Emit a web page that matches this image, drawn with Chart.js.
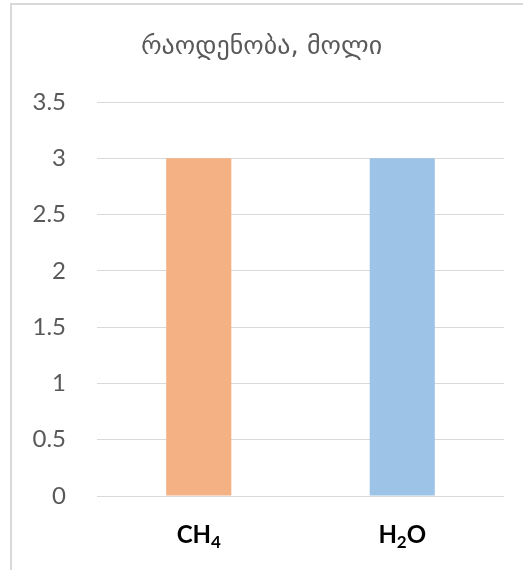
<!DOCTYPE html>
<html>
<head>
<meta charset="utf-8">
<script src="https://cdn.jsdelivr.net/npm/chart.js@4"></script>
<style>
html,body{margin:0;padding:0;background:#fff;}
#wrap{position:relative;width:523px;height:570px;overflow:hidden;}
#frame{position:absolute;left:10px;top:3px;width:520px;height:580px;border-left:2px solid #d9d9d9;border-top:2px solid #d9d9d9;box-sizing:border-box;}
canvas{position:absolute;left:0;top:0;}
</style>
</head>
<body>
<div id="wrap">
<div id="frame"></div>
<canvas id="c" width="523" height="570"></canvas>
</div>
<script>
const categories = ["CH4", "H2O"];
const values = [3, 3];
const barColors = ["#F4B183", "#9DC3E6"];
const titleText = "რაოდენობა, მოლი";
const yTicks = [0, 0.5, 1, 1.5, 2, 2.5, 3, 3.5];

// draws the title centred on the canvas and the category labels with subscript digits
const textPlugin = {
  id: 'textPlugin',
  afterDraw(chart) {
    const ctx = chart.ctx;
    ctx.save();
    ctx.fillStyle = '#595959';
    ctx.font = "normal 26px 'DejaVu Sans', sans-serif";
    ctx.textAlign = 'center';
    ctx.textBaseline = 'middle';
    ctx.fillText(titleText, chart.width / 2, 47);

    const xs = chart.scales.x;
    const big = "bold 24px Lato, 'DejaVu Sans', sans-serif";
    const small = "bold 17px Lato, 'DejaVu Sans', sans-serif";
    ctx.fillStyle = '#000';
    ctx.textAlign = 'left';
    ctx.textBaseline = 'alphabetic';
    const baseY = 543;
    categories.forEach((label, i) => {
      const parts = label.split(/(\d+)/).filter(p => p.length);
      let w = 0;
      parts.forEach(p => { ctx.font = /^\d+$/.test(p) ? small : big; w += ctx.measureText(p).width; });
      let x = xs.getPixelForTick(i) - w / 2;
      parts.forEach(p => {
        const sub = /^\d+$/.test(p);
        ctx.font = sub ? small : big;
        ctx.fillText(p, x, sub ? baseY + 5 : baseY);
        x += ctx.measureText(p).width;
      });
    });
    ctx.restore();
  }
};

new Chart(document.getElementById('c'), {
  type: 'bar',
  data: {
    labels: categories,
    datasets: [{
      data: values,
      backgroundColor: barColors,
      borderWidth: 0,
      barPercentage: 0.32,
      categoryPercentage: 1
    }]
  },
  plugins: [textPlugin],
  options: {
    responsive: false,
    animation: false,
    devicePixelRatio: 1,
    layout: { padding: { left: 0, right: 19, top: 102, bottom: 0 } },
    plugins: {
      legend: { display: false },
      tooltip: { enabled: false },
      title: { display: false }
    },
    scales: {
      x: {
        grid: { display: false, drawTicks: false },
        border: { display: false },
        ticks: { display: false },
        afterFit: s => { s.height = 74; }
      },
      y: {
        min: 0,
        max: 3.5,
        afterBuildTicks: s => { s.ticks = yTicks.map(v => ({ value: v })); },
        grid: { color: '#d9d9d9', lineWidth: 1, drawTicks: false },
        border: { display: false },
        ticks: {
          color: '#595959',
          font: { family: "Lato, 'DejaVu Sans', sans-serif", size: 24 },
          padding: 31,
          callback: v => String(v)
        },
        afterFit: s => { s.width = 97; }
      }
    }
  }
});
</script>
</body>
</html>
